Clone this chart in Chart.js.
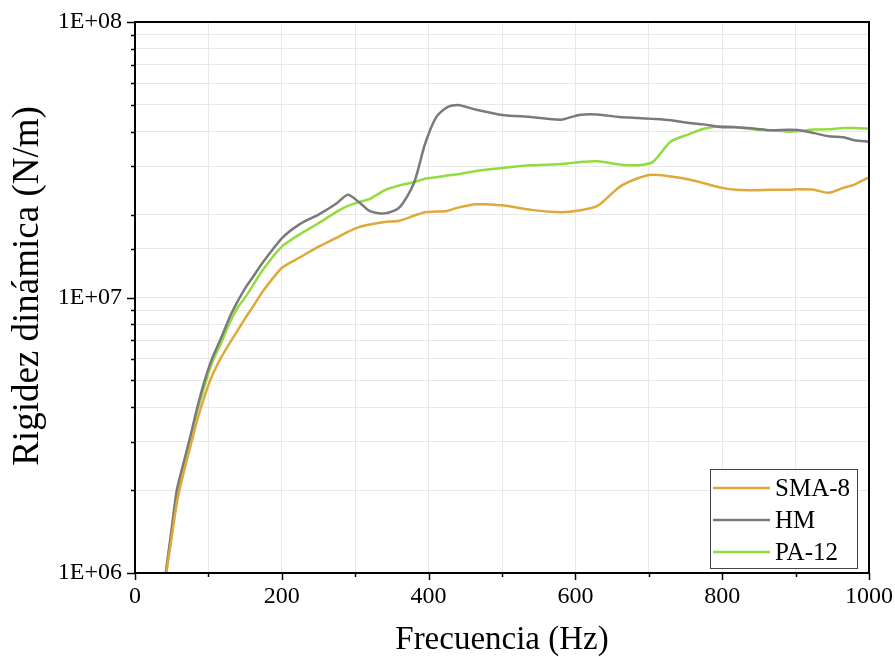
<!DOCTYPE html>
<html>
<head>
<meta charset="utf-8">
<script src="https://cdn.jsdelivr.net/npm/chart.js@4.4.1/dist/chart.umd.min.js"></script>
<style>
  html, body { margin: 0; padding: 0; background: #fff; }
  #wrap { width: 895px; height: 657px; }
</style>
</head>
<body>
<div id="wrap"><canvas id="myChart"></canvas></div>
<script>
// frequency (Hz) sampled along the curves
const freq = [42, 50, 57, 66, 75, 85, 95, 105, 118, 130, 140, 150, 160, 175, 200, 225, 250, 275, 290, 305,
    320, 340, 360, 380, 395, 410, 425, 440, 465, 500, 540, 580, 605, 630, 660, 685, 705, 730, 755, 775,
    800, 820, 845, 865, 890, 905, 925, 945, 965, 980, 1000];

const sma8 = [0.97e6, 1.35e6, 1.8e6, 2.3e6, 2.85e6, 3.6e6, 4.4e6, 5.2e6, 6.1e6, 6.9e6, 7.6e6, 8.4e6, 9.2e6, 1.06e7, 1.28e7, 1.4e7, 1.53e7, 1.65e7, 1.73e7, 1.8e7,
    1.84e7, 1.88e7, 1.9e7, 1.98e7, 2.04e7, 2.05e7, 2.06e7, 2.12e7, 2.18e7, 2.16e7, 2.08e7, 2.04e7, 2.07e7, 2.15e7, 2.52e7, 2.71e7, 2.79e7, 2.75e7, 2.68e7, 2.6e7,
    2.5e7, 2.46e7, 2.45e7, 2.46e7, 2.46e7, 2.47e7, 2.46e7, 2.4e7, 2.5e7, 2.57e7, 2.73e7];

const hm = [1.0e6, 1.45e6, 2.0e6, 2.5e6, 3.1e6, 4.0e6, 5.0e6, 6.0e6, 7.2e6, 8.6e6, 9.7e6, 1.08e7, 1.18e7, 1.35e7, 1.64e7, 1.85e7, 2.0e7, 2.2e7, 2.36e7, 2.22e7,
    2.06e7, 2.02e7, 2.12e7, 2.6e7, 3.6e7, 4.5e7, 4.9e7, 5.0e7, 4.8e7, 4.6e7, 4.52e7, 4.42e7, 4.6e7, 4.62e7, 4.52e7, 4.48e7, 4.45e7, 4.4e7, 4.3e7, 4.25e7,
    4.15e7, 4.15e7, 4.1e7, 4.05e7, 4.06e7, 4.05e7, 3.95e7, 3.85e7, 3.82e7, 3.72e7, 3.68e7];

const pa12 = [1.0e6, 1.42e6, 1.95e6, 2.45e6, 3.05e6, 3.9e6, 4.8e6, 5.8e6, 6.9e6, 8.2e6, 9.2e6, 1.0e7, 1.1e7, 1.27e7, 1.53e7, 1.7e7, 1.86e7, 2.05e7, 2.15e7, 2.22e7,
    2.28e7, 2.45e7, 2.55e7, 2.62e7, 2.7e7, 2.73e7, 2.77e7, 2.8e7, 2.88e7, 2.95e7, 3.02e7, 3.05e7, 3.1e7, 3.12e7, 3.04e7, 3.02e7, 3.1e7, 3.68e7, 3.92e7, 4.1e7,
    4.18e7, 4.15e7, 4.07e7, 4.05e7, 4.0e7, 4.02e7, 4.07e7, 4.08e7, 4.12e7, 4.12e7, 4.1e7];

const seriesNames = ['SMA-8', 'HM', 'PA-12'];
const seriesColors = ['rgb(224, 168, 58)', 'rgb(122, 122, 122)', 'rgb(146, 220, 62)'];
const xTicks = [0, 200, 400, 600, 800, 1000];
const yTitle = 'Rigidez dinámica (N/m)';

const FONT = 'Liberation Serif';

function toPoints(values) {
    return values.map((v, i) => ({ x: freq[i], y: v }));
}

// frame, tick marks, y title and the legend box drawn inside the plot
const framePlugin = {
    id: 'frame',
    afterDraw(chart) {
        const ctx = chart.ctx;
        const a = chart.chartArea;
        const xs = chart.scales.x, ys = chart.scales.y;
        ctx.save();
        ctx.strokeStyle = '#000';
        ctx.lineWidth = 1.5;
        // ticks on x
        for (let v = 0; v <= 1000; v += 100) {
            const px = Math.round(xs.getPixelForValue(v)) + 0.5;
            const len = v % 200 === 0 ? 7 : 4;
            ctx.beginPath(); ctx.moveTo(px, a.bottom); ctx.lineTo(px, a.bottom + len); ctx.stroke();
        }
        // ticks on y
        ys.ticks.forEach(t => {
            const py = Math.round(ys.getPixelForValue(t.value)) + 0.5;
            const major = Math.abs(Math.log10(t.value) - Math.round(Math.log10(t.value))) < 1e-9;
            const len = major ? 8 : 4;
            ctx.beginPath(); ctx.moveTo(a.left - len, py); ctx.lineTo(a.left, py); ctx.stroke();
        });
        ctx.lineWidth = 2;
        ctx.strokeRect(a.left, a.top, a.right - a.left, a.bottom - a.top);

        // y axis title
        ctx.save();
        ctx.translate(28, 286);
        ctx.rotate(-Math.PI / 2);
        ctx.font = '37px "' + FONT + '"';
        ctx.fillStyle = '#000';
        ctx.textAlign = 'center';
        ctx.textBaseline = 'middle';
        ctx.fillText(yTitle, 0, 0);
        ctx.restore();

        // legend
        const bx = 710, by = 469, bw = 147, bh = 99;
        ctx.fillStyle = '#fff';
        ctx.fillRect(bx, by, bw, bh);
        ctx.lineWidth = 1;
        ctx.strokeStyle = '#444';
        ctx.strokeRect(bx + 0.5, by + 0.5, bw, bh);
        ctx.font = '25px "' + FONT + '"';
        ctx.textBaseline = 'middle';
        ctx.textAlign = 'left';
        chart.data.datasets.forEach((ds, i) => {
            const ry = by + 19 + i * 32;
            ctx.strokeStyle = ds.borderColor;
            ctx.lineWidth = 2.5;
            ctx.beginPath(); ctx.moveTo(bx + 3, ry); ctx.lineTo(bx + 60, ry); ctx.stroke();
            ctx.fillStyle = '#000';
            ctx.fillText(ds.label, bx + 65, ry + 1);
        });
        ctx.restore();
    }
};

const ctx = document.getElementById('myChart');
new Chart(ctx, {
    type: 'line',
    data: {
        datasets: seriesNames.map((name, i) => ({
            label: name,
            data: toPoints([sma8, hm, pa12][i]),
            borderColor: seriesColors[i],
            backgroundColor: seriesColors[i],
            borderWidth: 2.5,
            pointRadius: 0,
            tension: 0.25
        }))
    },
    options: {
        responsive: true,
        maintainAspectRatio: false,
        animation: false,
        layout: { padding: { left: 0, top: 22, right: 26, bottom: 0 } },
        plugins: {
            legend: { display: false },
            tooltip: { enabled: false }
        },
        scales: {
            x: {
                type: 'linear',
                min: 0,
                max: 1000,
                afterFit: s => { s.height = 84; s.paddingLeft = 0; s.paddingRight = 0; },
                border: { display: false },
                grid: { color: '#e8e8e8', drawTicks: false, lineWidth: 1 },
                ticks: {
                    stepSize: 100,
                    autoSkip: false,
                    maxRotation: 0,
                    padding: 9,
                    color: '#000',
                    font: { family: FONT, size: 24 },
                    callback: v => xTicks.includes(v) ? String(v) : ''
                },
                title: {
                    display: true,
                    text: 'Frecuencia (Hz)',
                    color: '#000',
                    font: { family: FONT, size: 33, lineHeight: 1 },
                    padding: 0
                }
            },
            y: {
                type: 'logarithmic',
                min: 1e6,
                max: 1e8,
                afterFit: s => { s.width = 135; s.paddingTop = 0; s.paddingBottom = 0; },
                border: { display: false },
                grid: { color: '#e8e8e8', drawTicks: false, lineWidth: 1 },
                ticks: {
                    autoSkip: false,
                    padding: 13,
                    color: '#000',
                    font: { family: FONT, size: 24 },
                    callback: v => {
                        const e = Math.log10(v);
                        if (Math.abs(e - Math.round(e)) > 1e-9) return '';
                        return '1E+' + String(Math.round(e)).padStart(2, '0');
                    }
                },
                title: { display: false }
            }
        }
    },
    plugins: [framePlugin]
});
</script>
</body>
</html>
